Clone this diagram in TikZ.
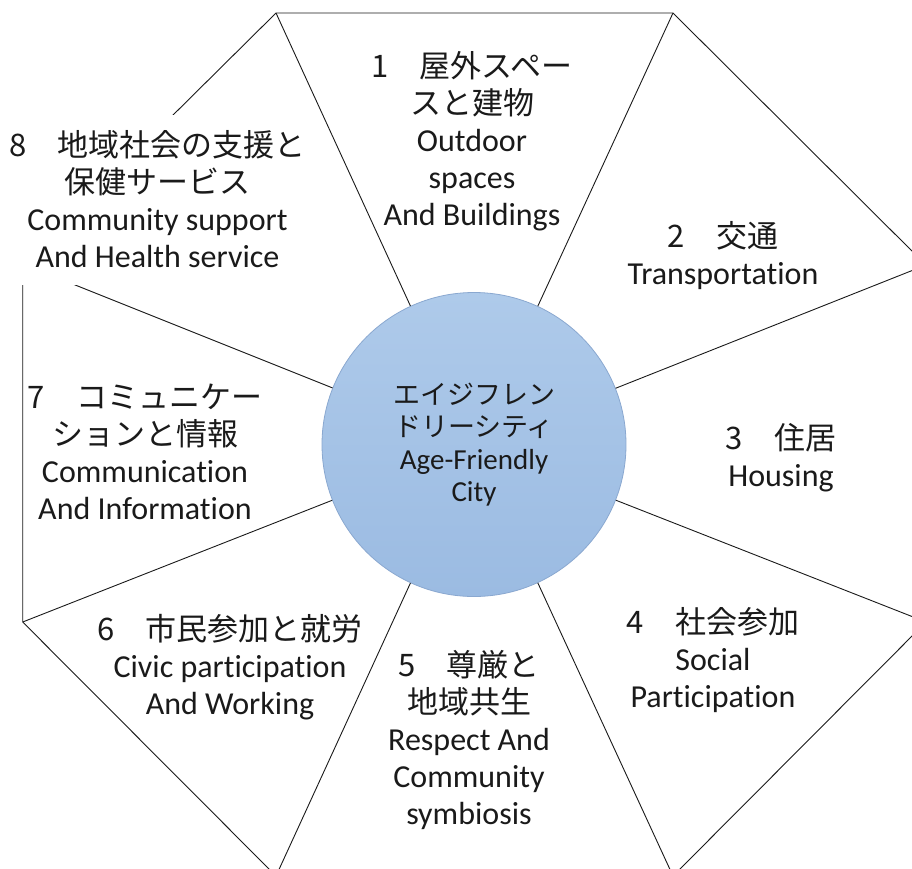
\documentclass[tikz,border=0pt]{standalone}
\usepackage{fontspec}
\setmainfont{Carlito}[Ligatures={NoCommon,NoRequired,NoContextual}]
\newfontfamily\jpfont{Noto Sans CJK JP}
\definecolor{citytop}{HTML}{AECAEA}
\definecolor{citybot}{HTML}{9BBBE2}
\definecolor{cityline}{HTML}{8AA8D0}
\definecolor{inkc}{HTML}{1A1A1A}
\begin{document}
\begin{tikzpicture}[x=1pt,y=-1pt,
  edge/.style={draw=inkc,line width=0.9pt},
  lbl/.style={align=center,font=\fontsize{32}{37}\selectfont,inner sep=0pt,text=inkc},
  jpl/.style={},
  citynode/.style={circle,minimum size=304pt,inner sep=0pt,draw=cityline,line width=0.8pt,
     top color=citytop,bottom color=citybot,align=center,
     font=\fontsize{29}{32.5}\selectfont,text=inkc}]
\useasboundingbox (0,0) rectangle (912,868);
\clip (0,0) rectangle (912,868);
\fill[white] (0,0) rectangle (912,868);
% octagon vertices
\coordinate (v1) at (276,13);
\coordinate (v2) at (673,13);
\coordinate (v3) at (926,265);
\coordinate (v4) at (926,622);
\coordinate (v5) at (673,876);
\coordinate (v6) at (276,876);
\coordinate (v7) at (22.7,622);
\coordinate (v8) at (22.7,264);
\draw[edge] (v1) -- (v2) -- (v3) -- (v4) -- (v5) -- (v6) -- (v7) -- (v8) -- cycle;
% centre
\node[citynode] (city) at (474,444.5)
  {{\jpfont\fontsize{27}{32.5}\selectfont エイジフレン}\\{\jpfont\fontsize{27}{32.5}\selectfont ドリーシティ}\\Age-Friendly\\City};
\foreach \v in {v1,v2,v3,v4,v5,v6,v7,v8}{\draw[edge] (\v) -- (city);}
% labels
\node[lbl] (l1) at (472,141) {{\jpfont\fontsize{31}{37}\selectfont 1　屋外スペー}\\{\jpfont\fontsize{31}{37}\selectfont スと建物}\\Outdoor\\spaces\\And Buildings};
\node[lbl] (l2) at (723,255.5) {{\jpfont\fontsize{31}{37}\selectfont 2　交通}\\Transportation};
\node[lbl] (l3) at (781,458) {{\jpfont\fontsize{31}{37}\selectfont 3　住居}\\Housing};
\node[lbl] (l4) at (713,660.5) {{\jpfont\fontsize{31}{37}\selectfont 4　社会参加}\\Social\\Participation};
\node[lbl] (l5) at (469,740) {{\jpfont\fontsize{31}{37}\selectfont 5　尊厳と}\\{\jpfont\fontsize{31}{37}\selectfont 地域共生}\\Respect And\\Community\\symbiosis};
\node[lbl] (l6) at (230,667.5) {{\jpfont\fontsize{31}{37}\selectfont 6　市民参加と就労}\\Civic participation\\And Working};
\node[lbl] (l7) at (145,451.5) {{\jpfont\fontsize{31}{37}\selectfont 7　コミュニケー}\\{\jpfont\fontsize{31}{37}\selectfont ションと情報}\\Communication\\And Information};
\node[lbl,fill=white,minimum width=310pt,minimum height=170pt] (l8) at (157.5,199.5)
  {{\jpfont\fontsize{31}{37}\selectfont 8　地域社会の支援と}\\{\jpfont\fontsize{31}{37}\selectfont 保健サービス}\\Community support\\And Health service};
\end{tikzpicture}
\end{document}
